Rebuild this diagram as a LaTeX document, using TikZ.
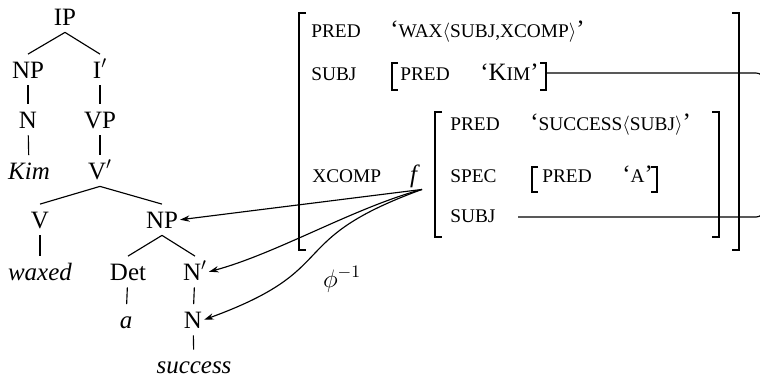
\documentclass[tikz,border=0pt]{standalone}
\usepackage{fontspec}
\setmainfont{Liberation Serif}
\usetikzlibrary{arrows.meta}
\newcommand\fsc[1]{{\fontsize{11pt}{13pt}\selectfont #1}}

\begin{document}
\begin{tikzpicture}[x=1cm,y=1cm,font=\fontsize{14.2pt}{17pt}\selectfont]
\tikzset{
  treenode/.style={anchor=base,inner xsep=1pt,inner ysep=4pt,text height=9.4pt,text depth=0pt},
  avmtext/.style={anchor=base west,inner sep=0pt},
  branch/.style={line width=0.65pt},
  avmbracket/.style={line width=1.3pt},
  phiarrow/.style={-{Stealth[length=5.5pt,width=3.6pt]},line width=0.65pt},
  shared/.style={line width=0.65pt,rounded corners=4.5pt}
}
\useasboundingbox (0,0) rectangle (15.2,7.58);
% c-structure
\node[treenode] (n_ip) at (1.30,7.08) {IP};
\node[treenode] (n_np) at (0.56,6.02) {NP};
\node[treenode] (n_ibar) at (2.00,6.02) {I$'$};
\node[treenode] (n_n) at (0.56,5.02) {N};
\node[treenode] (n_vp) at (2.00,5.02) {VP};
\node[treenode] (n_kim) at (0.58,4.00) {\textit{Kim}};
\node[treenode] (n_vbar) at (2.00,4.00) {V$'$};
\node[treenode] (n_v) at (0.80,3.02) {V};
\node[treenode] (n_np2) at (3.24,3.02) {NP};
\node[treenode] (n_waxed) at (0.80,1.98) {\textit{waxed}};
\node[treenode] (n_det) at (2.56,1.98) {Det};
\node[treenode] (n_nbar) at (3.90,1.98) {N$'$};
\node[treenode] (n_a) at (2.52,1.02) {\textit{a}};
\node[treenode] (n_n2) at (3.86,1.02) {N};
\node[treenode] (n_success) at (3.88,0.11) {\textit{success}};
\draw[branch] (n_ip.south) -- (n_np.north);
\draw[branch] (n_ip.south) -- (n_ibar.north);
\draw[branch] (n_np) -- (n_n);
\draw[branch] (n_n) -- (n_kim);
\draw[branch] (n_ibar) -- (n_vp);
\draw[branch] (n_vp) -- (n_vbar);
\draw[branch] (n_vbar.south) -- (n_v.north);
\draw[branch] (n_vbar.south) -- (n_np2.north);
\draw[branch] (n_v) -- (n_waxed);
\draw[branch] (n_np2.south) -- (n_det.north);
\draw[branch] (n_np2.south) -- (n_nbar.north);
\draw[branch] (n_det) -- (n_a);
\draw[branch] (n_nbar) -- (n_n2);
\draw[branch] (n_n2) -- (n_success);
% f-structure
\node[avmtext] (n_pred_a) at (6.22,6.84) {\fsc{PRED}};
\node[avmtext] (n_wax) at (7.80,6.84) {`\fsc{WAX$\langle$SUBJ,XCOMP$\rangle$}'};
\node[avmtext] (n_subj_a) at (6.22,5.98) {\fsc{SUBJ}};
\node[avmtext] (n_pred_b) at (8.00,5.98) {\fsc{PRED}};
\node[avmtext] (n_kimval) at (9.60,5.98) {`K\fsc{IM}'};
\node[avmtext] (n_xcomp) at (6.24,3.94) {\fsc{XCOMP}};
\node[anchor=base,inner sep=1pt] (n_f) at (8.30,3.94) {\textit{f}};
\node[avmtext] (n_pred_c) at (9.00,4.98) {\fsc{PRED}};
\node[avmtext] (n_succval) at (10.60,4.98) {`\fsc{SUCCESS$\langle$SUBJ$\rangle$}'};
\node[avmtext] (n_spec) at (9.00,3.94) {\fsc{SPEC}};
\node[avmtext] (n_pred_d) at (10.84,3.94) {\fsc{PRED}};
\node[avmtext] (n_aval) at (12.44,3.94) {`\fsc{A}'};
\node[avmtext] (n_subj_c) at (9.00,3.14) {\fsc{SUBJ}};
\draw[avmbracket] (6.12,7.32) -- (5.98,7.32) -- (5.98,2.58) -- (6.12,2.58);
\draw[avmbracket] (14.64,7.32) -- (14.78,7.32) -- (14.78,2.58) -- (14.64,2.58);
\draw[avmbracket] (7.96,6.32) -- (7.84,6.32) -- (7.84,5.78) -- (7.96,5.78);
\draw[avmbracket] (10.80,6.32) -- (10.92,6.32) -- (10.92,5.78) -- (10.80,5.78);
\draw[avmbracket] (8.84,5.34) -- (8.70,5.34) -- (8.70,2.84) -- (8.84,2.84);
\draw[avmbracket] (14.24,5.34) -- (14.38,5.34) -- (14.38,2.84) -- (14.24,2.84);
\draw[avmbracket] (10.76,4.24) -- (10.64,4.24) -- (10.64,3.74) -- (10.76,3.74);
\draw[avmbracket] (13.02,4.24) -- (13.14,4.24) -- (13.14,3.74) -- (13.02,3.74);
% structure sharing
\coordinate (c_kim_rb) at (10.92,6.12);
\coordinate (c_turn_top) at (15.28,6.12);
\coordinate (c_turn_bot) at (15.28,3.24);
\coordinate (c_slot) at (10.36,3.24);
\draw[shared] (c_kim_rb) -- (c_turn_top) -- (c_turn_bot) -- (c_slot);
% phi inverse
\node[anchor=base] (n_phi) at (6.84,1.84) {$\phi^{-1}$};
\draw[phiarrow] (n_f.south east) -- (n_np2.east);
\draw[phiarrow] (n_f.south east) .. controls +(195:1.4) and +(15:1.4) .. (n_nbar.east);
\draw[phiarrow] (n_f.south east) .. controls +(200:3) and +(20:3) .. (n_n2.east);
\end{tikzpicture}
\end{document}
